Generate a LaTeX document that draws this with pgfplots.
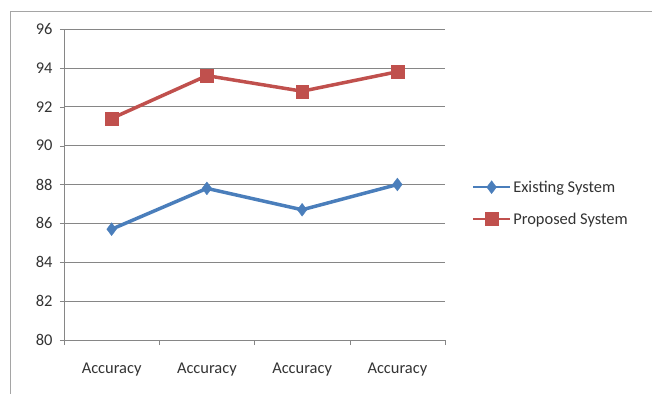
\documentclass[border=0pt]{standalone}
\usepackage{fontspec}
\setmainfont{Carlito}
\usepackage{pgfplots}
\pgfplotsset{compat=1.18}
\definecolor{exblue}{RGB}{74,126,187}
\definecolor{prred}{RGB}{192,80,77}
\definecolor{gridgray}{RGB}{134,134,134}
\definecolor{framegray}{RGB}{165,165,165}
\begin{document}
\begin{tikzpicture}
\begin{axis}[
  at={(0,0)}, anchor=south west,
  scale only axis,
  width=381bp, height=311bp,
  xmin=0, xmax=4, ymin=80, ymax=96,
  ytick={80,82,...,96},
  xtick={0.5,1.5,2.5,3.5},
  xticklabels={Accuracy,Accuracy,Accuracy,Accuracy},
  minor xtick={0,1,2,3,4},
  major x tick style={draw=none},
  minor x tick style={draw=gridgray},
  y tick style={draw=gridgray},
  tick align=outside,
  major tick length=4bp, minor tick length=5bp,
  ymajorgrids, major grid style={gridgray, line width=0.7pt},
  axis x line*=bottom, axis y line*=left,
  axis line style={gridgray, line width=0.7pt, -},
  tick label style={font=\fontsize{16.5}{18}\selectfont, text=black!80},
  yticklabel style={xshift=-4bp},
  xticklabel style={yshift=-15bp},
  /pgf/number format/assume math mode=true,
  legend style={at={(1.07,0.44)}, anchor=west, draw=none, fill=none,
    font=\fontsize{16.5}{18}\selectfont, row sep=15bp, text=black!80,
    inner xsep=0pt},
  legend cell align=left,
  legend image code/.code={
    \draw[#1, line width=2.5pt] (0bp,0bp) -- (37bp,0bp);
    \draw[#1, mark repeat=1] plot coordinates {(18.5bp,0bp)};
  },
]
\addplot[exblue, line width=3.5pt, mark=diamond*, mark size=6.5pt, mark options={solid, fill=exblue, line width=0.3pt}]
  coordinates {(0.5,85.7) (1.5,87.8) (2.5,86.7) (3.5,88.0)};
\addlegendentry{Existing System}
\addplot[prred, line width=3.5pt, mark=square*, mark size=6.5pt, mark options={solid, fill=prred, line width=0.3pt}]
  coordinates {(0.5,91.4) (1.5,93.6) (2.5,92.8) (3.5,93.8)};
\addlegendentry{Proposed System}
\end{axis}
\draw[framegray, line width=0.8pt] (-54bp,-80bp) -- (-54bp,329bp) -- (620bp,329bp);
\pgfresetboundingbox
\path[use as bounding box] (-64bp,-54bp) rectangle (588bp,340bp);
\end{tikzpicture}
\end{document}
